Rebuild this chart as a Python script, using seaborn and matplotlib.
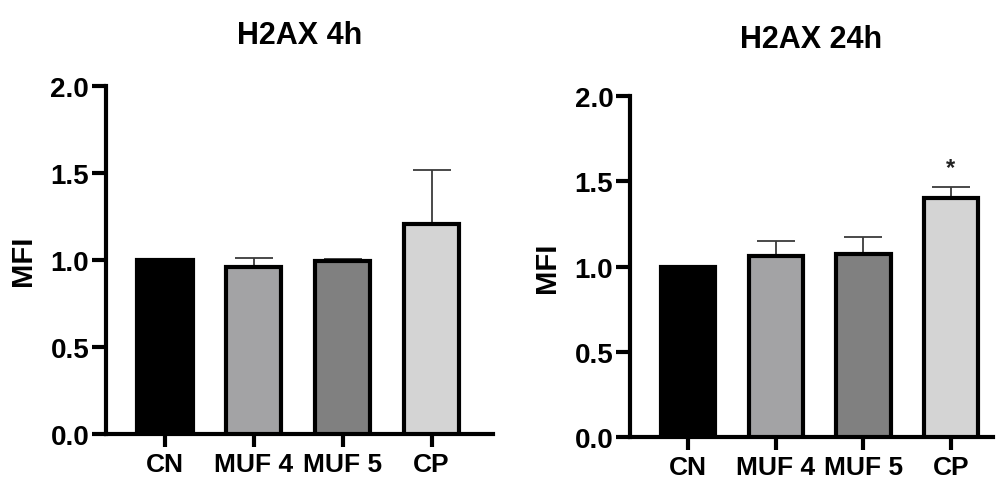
import matplotlib
matplotlib.use("Agg")
import matplotlib.pyplot as plt
import seaborn as sns
import pandas as pd

# datos
categorias = ["CN", "MUF 4", "MUF 5", "CP"]
colores = ["#000000", "#a2a2a6", "#808080", "#d4d4d4"]

mfi_4h = [1.0, 0.96, 0.995, 1.205]
err_4h = [0.0, 0.05, 0.008, 0.315]

mfi_24h = [1.0, 1.06, 1.075, 1.40]
err_24h = [0.0, 0.09, 0.10, 0.063]

sns.set_style("ticks")
plt.rcParams['font.family'] = ['Liberation Sans', 'DejaVu Sans']
plt.rcParams['font.weight'] = 'bold'
for clave in ['text.color', 'axes.labelcolor', 'axes.edgecolor',
              'xtick.color', 'ytick.color']:
    plt.rcParams[clave] = 'black'


def panel(ax, valores, errores, titulo, xmax, pad, estrella=None):
    df = pd.DataFrame({"grupo": categorias, "MFI": valores})
    sns.barplot(data=df, x="grupo", y="MFI", hue="grupo", palette=colores,
                legend=False, width=0.62, edgecolor="black", linewidth=3,
                ax=ax, zorder=3)
    ax.errorbar(range(len(categorias)), valores,
                yerr=[[0] * len(errores), errores], fmt="none",
                ecolor="#3a3a3a", elinewidth=1.3, capsize=14, capthick=1.3,
                zorder=2)
    if estrella is not None:
        ax.text(3, estrella, "*", ha="center", va="center", fontsize=17,
                fontweight="bold", color="#222222")

    ax.set_ylim(0, 2.0)
    ax.set_xlim(-0.665, xmax)
    ax.set_yticks([0.0, 0.5, 1.0, 1.5, 2.0])
    ax.set_yticklabels(["0.0", "0.5", "1.0", "1.5", "2.0"])
    sns.despine(ax=ax)
    for lado in ["left", "bottom"]:
        ax.spines[lado].set_linewidth(3)
        ax.spines[lado].set_color("black")
    ax.tick_params(axis="y", length=10, width=3, labelsize=20, pad=2,
                   colors="black")
    ax.tick_params(axis="x", length=9, width=3, labelsize=19, pad=4,
                   colors="black")
    for t in ax.get_xticklabels() + ax.get_yticklabels():
        t.set_fontweight("bold")
    ax.set_xlabel("")
    ax.set_ylabel("MFI", fontsize=21, fontweight="bold", labelpad=10)
    ax.set_title(titulo, fontsize=22, fontweight="bold", pad=pad)


fig = plt.figure(figsize=(9.99, 4.81), dpi=100)
ax1 = fig.add_axes([0.106, 0.0956, 0.3875, 0.7235])
ax2 = fig.add_axes([0.6306, 0.0887, 0.3634, 0.7103])

panel(ax1, mfi_4h, err_4h, "H2AX 4h", 3.69, 31)
panel(ax2, mfi_24h, err_24h, "H2AX 24h", 3.48, 35, estrella=1.58)

fig.savefig("out.png", dpi=100)
